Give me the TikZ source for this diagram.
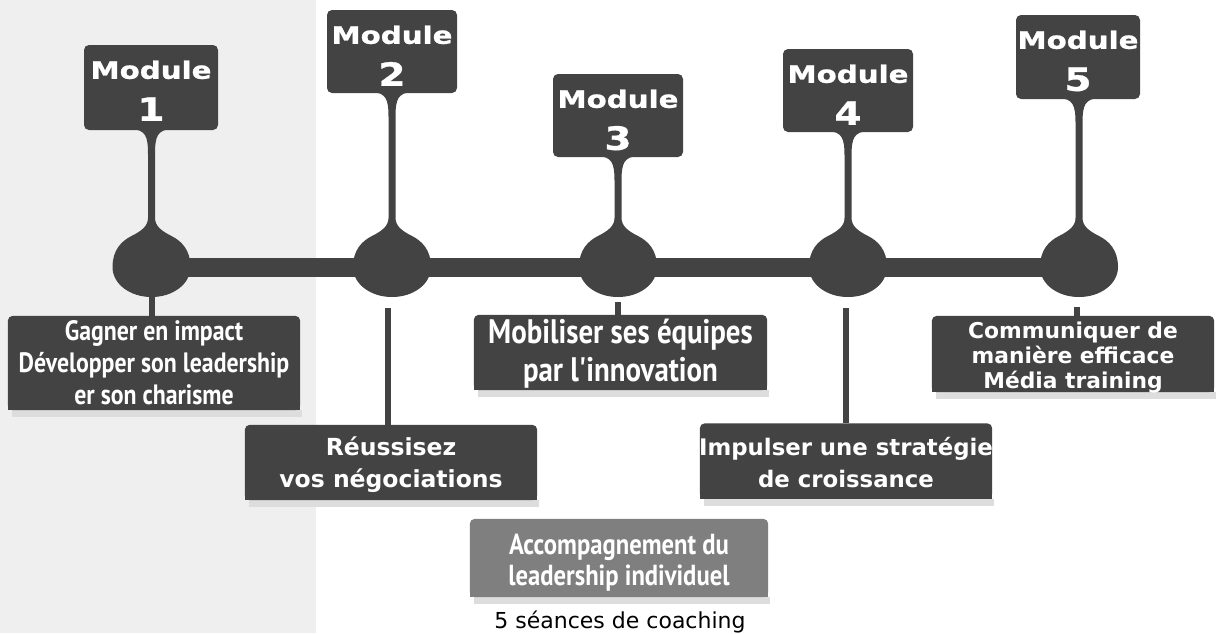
\documentclass[tikz,border=0pt]{standalone}
\usepackage{fontspec}
\newfontfamily\modfont{DejaVu Sans}
\newfontfamily\modwide{DejaVu Sans}[FakeStretch=1.22,FakeBold=1]
\newfontfamily\condfont{PT Sans}[FakeStretch=0.85]
\usetikzlibrary{shapes.geometric}
\pgfdeclarelayer{back}
\pgfdeclarelayer{boxes}
\pgfsetlayers{back,boxes,main}
\definecolor{dk}{HTML}{434343}
\definecolor{bgl}{HTML}{EFEFEF}
\definecolor{gr}{HTML}{7F7F7F}
\definecolor{shd}{HTML}{DDDDDD}
% stem with top fillet and teardrop bulb; #1 = x of stem, #2 = bottom of module box
\newcommand\neckshape[2]{%
  \fill[dk] (#1-20,#2-1) .. controls (#1-6,#2) and (#1-3.5,#2+6) .. (#1-3.5,#2+24)
    -- (#1-3.5,218) .. controls (#1-3.5,226) and (#1-10,231) .. (#1-20,236)
    .. controls (#1-30,241) and (#1-39,250) .. (#1-39,267)
    .. controls (#1-39,284) and (#1-21.5,297) .. (#1,297)
    .. controls (#1+21.5,297) and (#1+39,284) .. (#1+39,267)
    .. controls (#1+39,250) and (#1+30,241) .. (#1+20,236)
    .. controls (#1+10,231) and (#1+3.5,226) .. (#1+3.5,218)
    -- (#1+3.5,#2+24) .. controls (#1+3.5,#2+6) and (#1+6,#2) .. (#1+20,#2-1) -- cycle;}
\newcommand\boxbg[2]{% #1 node name, #2 colour
  \fill[shd] ([xshift=4pt]#1.south west) rectangle ([xshift=2pt,yshift=-7pt]#1.south east);
  \fill[#2, rounded corners=5pt] (#1.south west) rectangle (#1.north east);
  \fill[#2] ([yshift=6pt]#1.south west) rectangle (#1.south east);}
\begin{document}
\begin{tikzpicture}[x=1pt,y=-1pt,
  modbox/.style={fill=dk, rounded corners=5pt, inner sep=0pt, minimum height=83pt},
  modword/.style={text=white, inner sep=0pt, anchor=base,
    font=\modwide\bfseries\fontsize{24}{28}\selectfont},
  modnum/.style={text=white, inner sep=0pt, anchor=base,
    font=\modwide\bfseries\fontsize{32}{36}\selectfont},
  bulb/.style={ellipse, fill=dk, inner sep=0pt, minimum width=76pt, minimum height=58pt},
  descbox/.style={inner sep=0pt, minimum width=292pt},
  desctext/.style={inner sep=0pt, text=white, align=center},
  fcond/.style n args={2}{font=\condfont\bfseries\fontsize{#1}{#2}\selectfont},
  fwide/.style n args={2}{font=\modfont\bfseries\fontsize{#1}{#2}\selectfont},
  conn/.style={dk, line width=6pt},
]
\begin{pgfonlayer}{back}
\fill[white] (0,0) rectangle (1225,633);
\fill[bgl] (0,0) rectangle (316,633);
\end{pgfonlayer}
\useasboundingbox (0,0) rectangle (1225,633);

% module boxes
\node[modbox, minimum width=134pt, minimum height=85pt] (m1) at (151,87.5) {};
\node[modbox, minimum width=130pt] (m2) at (392,51.5) {};
\node[modbox, minimum width=130pt] (m3) at (618,115.5) {};
\node[modbox, minimum width=130pt] (m4) at (848,90.5) {};
\node[modbox, minimum width=124pt, minimum height=84pt] (m5) at (1078,57) {};
\foreach \i/\n in {m1/1,m2/2,m3/3,m4/4,m5/5}{
  \node[modword] (\i w) at ([yshift=-34pt]\i.north) {Module};
  \node[modnum] (\i n) at ([yshift=-76pt]\i.north) {\n};
}

% bulbs (named), bar, necks
\node[bulb] (b1) at (151.5,267.5) {};
\node[bulb] (b2) at (392,267.5) {};
\node[bulb] (b3) at (618,267.5) {};
\node[bulb] (b4) at (848,267.5) {};
\node[bulb] (b5) at (1079,267.5) {};
\draw[dk, line width=19pt] (b1.center) -- (b5.center);
\neckshape{151.5}{130}
\neckshape{392}{93}
\neckshape{618}{157}
\neckshape{848}{132}
\neckshape{1079}{99}

% description boxes
\node[descbox, minimum height=94pt] (d1) at (154,363) {};
\node[descbox, minimum height=75pt] (d2) at (391,462.5) {};
\node[descbox, minimum width=293pt, minimum height=75pt] (d3) at (620.5,352.5) {};
\node[descbox, minimum height=75pt] (d4) at (846,461) {};
\node[descbox, minimum width=282pt, minimum height=76pt] (d5) at (1073,354) {};
\node[descbox, minimum width=298pt, minimum height=78pt] (d6) at (619,558) {};
\begin{pgfonlayer}{boxes}
\boxbg{d1}{dk}
\boxbg{d2}{dk}
\boxbg{d3}{dk}
\boxbg{d4}{dk}
\boxbg{d5}{dk}
\boxbg{d6}{gr}
\end{pgfonlayer}

\node[desctext, fcond={28}{32}] (d1t) at (d1.center)
  {Gagner en impact\\Développer son leadership\\er son charisme};
\node[desctext, fwide={23.5}{32}] (d2t) at ([yshift=-2pt]d2.center)
  {Réussisez\\vos négociations};
\node[desctext, fcond={34}{38}] (d3t) at ([yshift=-1pt]d3.center)
  {Mobiliser ses équipes\\par l'innovation};
\node[desctext, fwide={22.8}{32}] (d4t) at ([yshift=-2pt]d4.center)
  {Impulser une stratégie\\de croissance};
\node[desctext, fwide={21.8}{25}] (d5t) at ([yshift=-4pt]d5.center)
  {Communiquer de\\manière efficace\\Média training};
\node[desctext, fcond={29}{31}] (d6t) at ([yshift=-5pt]d6.center)
  {Accompagnement du\\leadership individuel};

\node[font=\modfont\fontsize{22}{26}\selectfont, inner sep=0pt, anchor=base] (cap) at (620,628) {5 séances de coaching};

% connectors bulb -> description
\coordinate (t1) at (151.5,296);
\coordinate (t2) at (388,308);
\coordinate (t3) at (618,302);
\coordinate (t4) at (846,308);
\coordinate (t5) at (1077,307);
\draw[conn] (t1) -- (t1 |- d1.north);
\draw[conn] (t2) -- (t2 |- d2.north);
\draw[conn] (t3) -- (t3 |- d3.north);
\draw[conn] (t4) -- (t4 |- d4.north);
\draw[conn] (t5) -- (t5 |- d5.north);
\end{tikzpicture}
\end{document}
